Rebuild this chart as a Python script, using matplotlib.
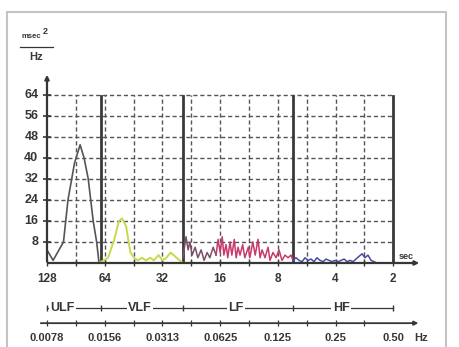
import matplotlib
matplotlib.use("Agg")
import matplotlib.pyplot as plt
from matplotlib.patches import Rectangle

plt.rcParams['font.family'] = ['Liberation Sans', 'DejaVu Sans']

# period (sec) and power (msec^2/Hz)
ulf_sec = [128, 119, 105, 99.5, 92, 86, 82, 78, 73.5, 70.5, 68.5]
ulf_val = [5, 1, 8, 24, 38, 45, 40, 32, 16, 8, 0]

vlf_sec = [68.5, 61.5, 57, 54, 52, 49.5, 47, 45, 43, 41, 39, 37, 35.5,
           33.5, 32, 30.5, 29, 27, 26, 25]
vlf_val = [0, 2, 9, 16, 17, 14, 4, 2, 1, 2, 1, 2, 1, 3, 1, 2, 4, 2, 1, 0]

lf1_sec = [25.0, 24.1, 23.5, 23.0, 22.4, 21.6, 20.9, 20.1, 19.4, 18.7, 18.1, 17.4, 16.8]
lf1_val = [2, 10, 5, 8, 3, 6, 2, 5, 1, 4, 2, 6, 3]

lf2_sec = [16.8, 16.4, 16.0, 15.6, 15.3, 14.9, 14.6, 14.2, 13.9, 13.5,
           13.2, 12.9, 12.6, 12.2, 11.9, 11.4, 11.2, 10.8, 10.5, 10.15,
           9.9, 9.67, 9.33, 9.0, 8.79, 8.48, 8.17, 7.89, 7.61, 7.34,
           7.08, 6.83, 6.67]
lf2_val = [3, 9, 4, 10, 3, 7, 2, 8, 3, 9,
           2, 6, 3, 7, 2, 6, 2, 8, 3, 9,
           2, 5, 2, 6, 1, 4, 2, 5, 1, 3,
           2, 3, 1]

hf_sec = [6.67, 6.43, 6.20, 5.98, 5.77, 5.57, 5.37, 5.18, 5.00, 4.82,
          4.65, 4.48, 4.33, 4.17, 4.03, 3.88, 3.74, 3.61, 3.48, 3.36,
          3.24, 3.13, 3.02, 2.91, 2.81, 2.71, 2.61, 2.52, 2.43]
hf_val = [1, 2, 1, 0.5, 2, 1, 1.5, 0.5, 2, 1,
          0.5, 1.5, 1, 0.5, 1, 0.5, 1, 1.5, 0.5, 1,
          0.5, 1.5, 2.5, 3.5, 2, 3, 1, 0.5, 0]

y_ticks = [8, 16, 24, 32, 40, 48, 56, 64]
sec_ticks = [128, 64, 32, 16, 8, 4, 2]
hz_labels = ["0.0078", "0.0156", "0.0313", "0.0625", "0.125", "0.25", "0.50"]
band_edges = [66.7, 25, 6.67, 2]
band_names = ["ULF", "VLF", "LF", "HF"]
band_label_sec = [106, 42, 13.2, 3.74]

ink = '#363636'

fig = plt.figure(figsize=(4.59, 3.47), dpi=100)
fig.patches.append(Rectangle((7 / 459, -0.05), 439 / 459, 1.05 - 12 / 347,
                             transform=fig.transFigure, fill=False,
                             edgecolor='#c4c4c4', lw=1.5))

ax = fig.add_axes([47 / 459, 84 / 347, 375 / 459, 191 / 347])
ax.set_xscale('log', base=2)
ax.set_xlim(128, 1.416)
ax.set_ylim(0, 72.7)
ax.axis('off')

# dashed grid
half_oct = [128 / 2 ** (k / 2) for k in range(1, 13)]
for s in half_oct:
    ax.plot([s, s], [0, 64], ls=(0, (3, 2)), lw=1.0, color='#555555', zorder=1)
for v in y_ticks:
    ax.plot([128, 2], [v, v], ls=(0, (3, 2)), lw=1.0, color='#555555', zorder=1)

# band boundaries
for s in band_edges:
    ax.plot([s, s], [0, 63.5], lw=2.0, color='#3a3a3a', zorder=2)

# spectrum
ax.plot(ulf_sec, ulf_val, color='#555555', lw=1.2, zorder=3)
ax.plot(vlf_sec, vlf_val, color='#c9d84c', lw=1.4, zorder=3)
ax.plot(lf1_sec, lf1_val, color='#7a5068', lw=1.1, zorder=3)
ax.plot(lf2_sec, lf2_val, color='#c63a6c', lw=1.1, zorder=3)
ax.plot(hf_sec, hf_val, color='#4a4aa0', lw=1.1, zorder=3)

# axes with arrows
ax.annotate('', xy=(128, 72.7), xytext=(128, -0.5), annotation_clip=False,
            arrowprops=dict(arrowstyle='-|>', lw=1.6, color=ink, mutation_scale=6))
ax.annotate('', xy=(1.416, 0), xytext=(131, 0), annotation_clip=False,
            arrowprops=dict(arrowstyle='-|>', lw=1.6, color=ink, mutation_scale=6))
ax.plot([128] * len(y_ticks), y_ticks, ls='none', marker='_', ms=6, mew=1.2,
        color=ink, clip_on=False)
ax.plot([128] + half_oct, [0] * 13, ls='none', marker='|', ms=5, mew=1.0,
        color=ink, clip_on=False)

for v in y_ticks:
    ax.text(142, v, str(v), ha='right', va='center', fontsize=9,
            fontweight='bold', color=ink)
for s in sec_ticks:
    ax.text(s, -5.9, str(s), ha='center', va='center', fontsize=8.5,
            fontweight='bold', color=ink, clip_on=False)
ax.text(1.713, 2.4, 'sec', ha='center', va='center', fontsize=6.5,
        fontweight='bold', color=ink)

# units label
ax.text(154, 86.1, 'msec', ha='center', va='center', fontsize=5.5,
        fontweight='bold', color=ink)
ax.text(131, 88.0, '2', ha='center', va='center', fontsize=6.5,
        fontweight='bold', color=ink)
ax.plot([177, 119], [82.3, 82.3], lw=0.9, color=ink, clip_on=False)
ax.text(146, 78.3, 'Hz', ha='center', va='center', fontsize=8,
        fontweight='bold', color=ink)

# band bar
ax.plot([128, 2], [-17.1, -17.1], lw=0.9, color=ink, clip_on=False)
ax.plot([128, 2] + band_edges[:3], [-17.1] * 5, ls='none', marker='|', ms=5,
        mew=1.0, color=ink, clip_on=False)
for name, s in zip(band_names, band_label_sec):
    ax.text(s, -17.1, name, ha='center', va='center', fontsize=9,
            fontweight='bold', color=ink, clip_on=False,
            bbox=dict(facecolor='white', edgecolor='none', pad=1.0))

# Hz axis
ax.annotate('', xy=(1.43, -22.9), xytext=(142.6, -22.9), annotation_clip=False,
            arrowprops=dict(arrowstyle='-|>', lw=1.3, color=ink, mutation_scale=6))
ax.plot([128] + half_oct[:-1], [-22.9] * 12, ls='none', marker='|', ms=4,
        mew=0.9, color=ink, clip_on=False)
for s, lab in zip(sec_ticks, hz_labels):
    ax.text(s, -28.6, lab, ha='center', va='center', fontsize=8,
            fontweight='bold', color=ink, clip_on=False)
ax.text(1.43, -28.6, 'Hz', ha='center', va='center', fontsize=8,
        fontweight='bold', color=ink, clip_on=False)

fig.savefig('out.png', dpi=100, facecolor='white')
